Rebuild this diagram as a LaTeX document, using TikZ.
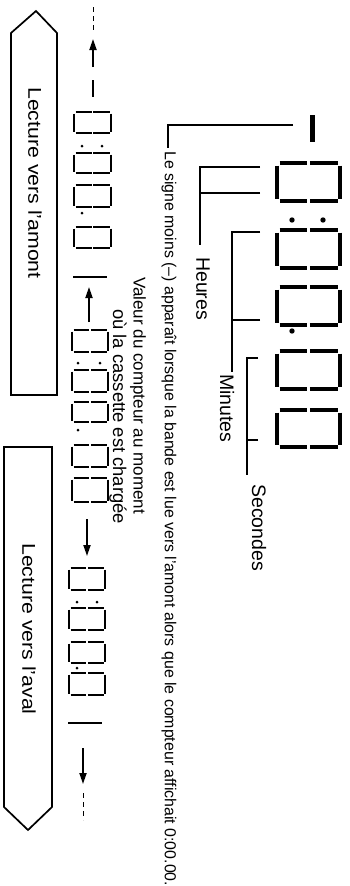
\documentclass[tikz,border=0pt]{standalone}
\usepackage{fontspec}
\setmainfont{Liberation Sans}
\usetikzlibrary{arrows.meta}
\newcommand\sevenzero[5]{% #1 xl, #2 xr, #3 yt, #4 yb, #5 gap
  \pgfmathsetmacro\segmidx{(#1+#2)/2}
  \draw (#1,#3+#5) -- (#1,#4-#5);
  \draw (#2,#3+#5) -- (#2,#4-#5);
  \draw (#1+#5,#3) -- (\segmidx-#5/2,#3);
  \draw (\segmidx+#5/2,#3) -- (#2-#5,#3);
  \draw (#1+#5,#4) -- (\segmidx-#5/2,#4);
  \draw (\segmidx+#5/2,#4) -- (#2-#5,#4);
}
\begin{document}
\begin{tikzpicture}[x=1pt,y=-1pt,
  thinline/.style={line width=1.1pt},
  boxline/.style={line width=1.7pt, line join=miter},
  bigseg/.style={line width=4.6pt},
  smallseg/.style={line width=2.6pt},
  arr/.style={line width=1.8pt, -{Triangle[length=11pt,width=7pt]}},
  dashline/.style={line width=1pt, dash pattern=on 5pt off 4pt},
  barline/.style={line width=2.6pt},
  lbl/.style={rotate=-90, anchor=west, inner sep=0pt, font=\fontsize{19.5}{22}\selectfont},
  note/.style={rotate=-90, anchor=west, inner sep=0pt, font=\fontsize{15.9}{18}\selectfont},
  boxtxt/.style={rotate=-90, anchor=west, inner sep=0pt, font=\fontsize{18.5}{21}\selectfont},
]
\useasboundingbox (0,0) rectangle (349,886);

% arrow boxes
\draw[boxline] (11,395) -- (11,33) -- (36,11) -- (57,33) -- (57,395) -- cycle;
\node[boxtxt] (amont) at (35,87) {\scalebox{1.15}[1]{Lecture vers l'amont}};
\draw[boxline] (4,447) -- (52,447) -- (52,807) -- (28,830) -- (4,807) -- cycle;
\node[boxtxt] (aval) at (29,543) {\scalebox{1.15}[1]{Lecture vers l'aval}};

% main display
\draw[line width=5pt] (312,115) -- (312,142);
\begin{scope}[bigseg]
  \sevenzero{277}{340}{163}{201}{2.5}
  \sevenzero{277}{340}{230}{268}{2.5}
  \sevenzero{277}{340}{287}{325}{2.5}
  \sevenzero{277}{340}{351}{389}{2.5}
  \sevenzero{277}{340}{410}{447}{2.5}
\end{scope}
\fill (292,220) circle (2.7pt) (323,220) circle (2.7pt) (292,331) circle (2.7pt);

% labels and brackets
\node[note] (signe) at (169,151) {Le signe moins (--) apparaît lorsque la bande est lue vers l'amont alors que le compteur affichait 0:00.00.};
\coordinate (sEnd) at (168,148);
\draw[thinline] (293,125) -| (sEnd);

\node[lbl] (heures) at (203,257) {Heures};
\coordinate (hEnd) at (200,245);
\draw[thinline] (260,167) -| (hEnd);
\draw[thinline] (260,193) -- (200,193);

\node[lbl] (minutes) at (227,374) {Minutes};
\coordinate (mEnd) at (232,372);
\draw[thinline] (260,232) -| (mEnd);
\draw[thinline] (260,320) -- (232,320);

\node[lbl] (secondes) at (259,484) {Secondes};
\coordinate (scEnd) at (247,475);
\draw[thinline] (258,358) -| (scEnd);
\draw[thinline] (258,440) -- (247,440);

\node[note, font=\fontsize{17}{20}\selectfont] (valeur1) at (138,277) {Valeur du compteur au moment};
\node[note, font=\fontsize{18.4}{20}\selectfont] (valeur2) at (118,309) {où la cassette est chargée};

% upper counter
\begin{scope}[smallseg]
  \sevenzero{74}{111}{112}{133}{1.5}
  \sevenzero{74}{111}{153}{173}{1.5}
  \sevenzero{74}{111}{185}{207}{1.5}
  \sevenzero{74}{111}{227}{248}{1.5}
\end{scope}
\fill (82,146) circle (1.5pt) (102,146) circle (1.5pt) (82,213) circle (1.5pt);

% central counter
\begin{scope}[smallseg]
  \sevenzero{72}{108}{330}{352}{1.5}
  \sevenzero{72}{108}{370}{392}{1.5}
  \sevenzero{72}{108}{402}{422}{1.5}
  \sevenzero{72}{108}{445}{467}{1.5}
  \sevenzero{72}{108}{478}{502}{1.5}
\end{scope}
\fill (78,363) circle (1.5pt) (100,363) circle (1.5pt) (78,430) circle (1.5pt);

% lower counter
\begin{scope}[smallseg]
  \sevenzero{69}{105}{568}{590}{1.5}
  \sevenzero{69}{105}{608}{630}{1.5}
  \sevenzero{69}{105}{642}{663}{1.5}
  \sevenzero{69}{105}{673}{695}{1.5}
\end{scope}
\fill (77,602) circle (1.5pt) (97,602) circle (1.5pt) (77,668) circle (1.5pt);

% arrows and marks
\coordinate (upDashA) at (93,7);
\coordinate (upDashB) at (93,33);
\coordinate (upArrS) at (93,67);
\coordinate (upArrT) at (93,39);
\draw[dashline] (upDashA) -- (upDashB);
\draw[arr] (upArrS) -- (upArrT);
\draw[barline] (93,80) -- (93,97);

\draw[barline] (73,277) -- (107,277);
\coordinate (cArrS) at (89,322);
\coordinate (cArrT) at (89,287);
\draw[arr] (cArrS) -- (cArrT);

\coordinate (dArrS) at (87,519);
\coordinate (dArrT) at (87,556);
\draw[arr] (dArrS) -- (dArrT);

\draw[barline] (68,723) -- (102,723);
\coordinate (lArrS) at (83,748);
\coordinate (lArrT) at (83,784);
\draw[arr] (lArrS) -- (lArrT);
\coordinate (lDashA) at (83,793);
\coordinate (lDashB) at (83,820);
\draw[dashline] (lDashA) -- (lDashB);
\end{tikzpicture}
\end{document}
